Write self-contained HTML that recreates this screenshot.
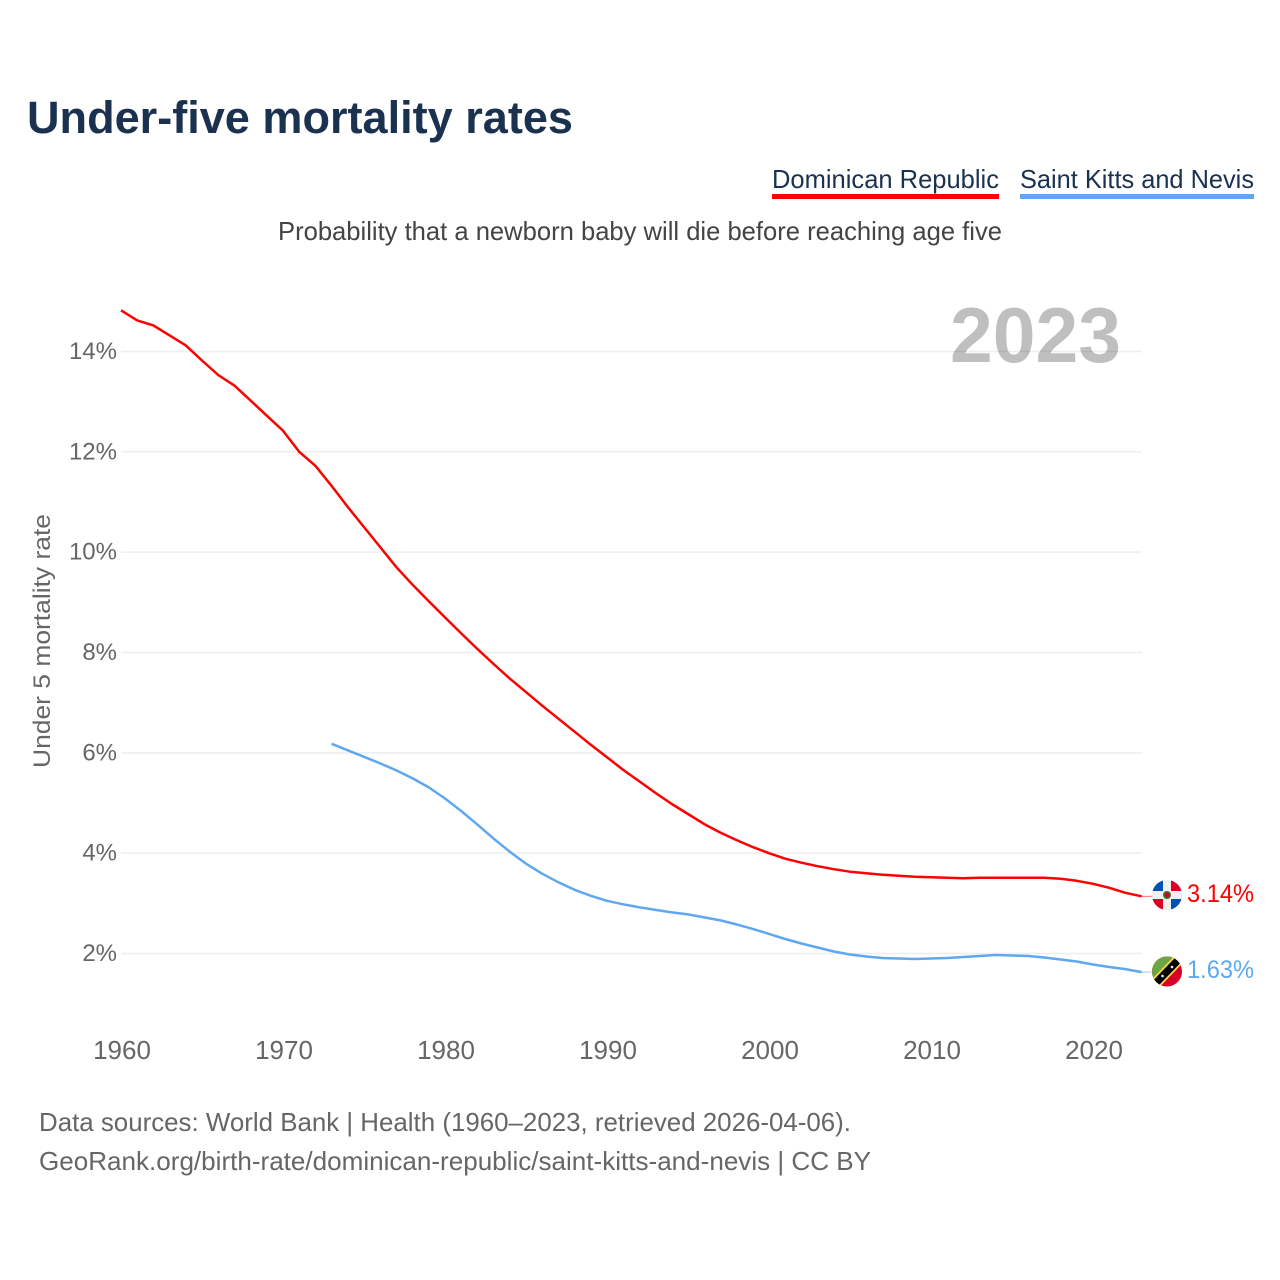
<!DOCTYPE html>
<html lang="en">
<head>
<meta charset="utf-8">
<title>Under-five mortality rates</title>
<style>
html,body{margin:0;padding:0;background:#fff;width:1280px;height:1280px;overflow:hidden}
svg{display:block}
text{font-family:"Liberation Sans",sans-serif}
</style>
</head>
<body>
<svg id="chart" xmlns="http://www.w3.org/2000/svg" width="1280" height="1280" viewBox="0 0 1280 1280">
  <defs>
    <clipPath id="clip-dr"><circle cx="1167" cy="895" r="15"/></clipPath>
    <clipPath id="clip-kn"><circle cx="1167" cy="971.5" r="15"/></clipPath>
  </defs>
  <text x="27" y="133" font-size="45" font-weight="700" fill="#1a3150" textLength="546" lengthAdjust="spacingAndGlyphs">Under-five mortality rates</text>

  <g>
    <text x="772" y="188" font-size="26" fill="#1a3150" textLength="227" lengthAdjust="spacingAndGlyphs">Dominican Republic</text>
    <rect x="772" y="194" width="227" height="5" fill="#ff0000"/>
  </g>
  <g>
    <text x="1020" y="188" font-size="26" fill="#1a3150" textLength="234" lengthAdjust="spacingAndGlyphs">Saint Kitts and Nevis</text>
    <rect x="1020" y="194" width="234" height="5" fill="#5fa8f0"/>
  </g>

  <text x="278" y="240" font-size="26" fill="#444444" textLength="724" lengthAdjust="spacingAndGlyphs">Probability that a newborn baby will die before reaching age five</text>

  <g id="grid"></g>
  <g id="yticks"></g>
  <g id="xticks"></g>

  <text x="950" y="362" font-size="78" font-weight="700" fill="#000000" fill-opacity="0.25" textLength="171" lengthAdjust="spacingAndGlyphs">2023</text>

  <text transform="translate(50,768) rotate(-90)" font-size="24" fill="#666666" textLength="254" lengthAdjust="spacingAndGlyphs">Under 5 mortality rate</text>

  <g id="series"></g>

  <g clip-path="url(#clip-dr)">
    <rect x="1152" y="880" width="30" height="31" fill="#f0f0f0"/>
    <rect x="1152" y="880" width="11" height="11" fill="#0052b4"/>
    <rect x="1171" y="880" width="11" height="11" fill="#d80027"/>
    <rect x="1152" y="899" width="11" height="12" fill="#d80027"/>
    <rect x="1171" y="899" width="11" height="12" fill="#0052b4"/>
    <circle cx="1167" cy="895" r="4" fill="#496e2d"/>
    <circle cx="1167" cy="895" r="2.4" fill="#d80027"/>
  </g>
  <g clip-path="url(#clip-kn)">
    <rect x="1152" y="956" width="30" height="31" fill="#d80027"/>
    <polygon points="1152,956 1182,956 1152,987" fill="#6da544"/>
    <line x1="1152" y1="987" x2="1182" y2="956" stroke="#ffda44" stroke-width="11"/>
    <line x1="1152" y1="987" x2="1182" y2="956" stroke="#000000" stroke-width="7.5"/>
    <circle cx="1162.5" cy="976" r="1.3" fill="#f0f0f0"/>
    <circle cx="1172" cy="967" r="1.3" fill="#f0f0f0"/>
  </g>

  <text x="1187" y="902" font-size="25" fill="#ff0000" textLength="67" lengthAdjust="spacingAndGlyphs">3.14%</text>
  <text x="1187" y="978" font-size="25" fill="#5fa8f0" textLength="67" lengthAdjust="spacingAndGlyphs">1.63%</text>

  <text x="39" y="1131" font-size="26" fill="#666666" textLength="812" lengthAdjust="spacingAndGlyphs">Data sources: World Bank | Health (1960–2023, retrieved 2026-04-06).</text>
  <text x="39" y="1170" font-size="26" fill="#666666" textLength="832" lengthAdjust="spacingAndGlyphs">GeoRank.org/birth-rate/dominican-republic/saint-kitts-and-nevis | CC BY</text>
</svg>
<script>
const xTickYears = [1960, 1970, 1980, 1990, 2000, 2010, 2020];
const yTickValues = [2, 4, 6, 8, 10, 12, 14];
const drStartYear = 1960;
const drValues = [14.82,14.62,14.52,14.32,14.12,13.82,13.53,13.32,13.02,12.72,12.42,12.0,11.72,11.32,10.9,10.5,10.1,9.7,9.35,9.02,8.7,8.38,8.07,7.77,7.48,7.21,6.94,6.68,6.42,6.16,5.91,5.66,5.43,5.2,4.98,4.78,4.58,4.41,4.26,4.12,4.0,3.89,3.81,3.74,3.68,3.63,3.6,3.57,3.55,3.53,3.52,3.51,3.5,3.51,3.51,3.51,3.51,3.51,3.49,3.45,3.39,3.31,3.21,3.14];
const knStartYear = 1973;
const knValues = [6.18,6.05,5.92,5.79,5.65,5.49,5.31,5.09,4.84,4.57,4.29,4.03,3.79,3.59,3.42,3.27,3.15,3.05,2.98,2.92,2.87,2.82,2.78,2.72,2.66,2.58,2.49,2.39,2.29,2.2,2.12,2.04,1.98,1.94,1.91,1.9,1.89,1.9,1.91,1.93,1.95,1.97,1.96,1.95,1.92,1.88,1.84,1.78,1.73,1.69,1.63];

const NS = 'http://www.w3.org/2000/svg';
function xScale(year) { return 121 + (year - 1960) * 16.2; }
function yScale(value) { return 1053.84 - value * 50.17; }
function points(startYear, values) {
  return values.map((v, i) => xScale(startYear + i).toFixed(1) + ',' + yScale(v).toFixed(1)).join(' ');
}
const grid = document.getElementById('grid');
const yticks = document.getElementById('yticks');
const xticks = document.getElementById('xticks');
const series = document.getElementById('series');

yTickValues.forEach(v => {
  const line = document.createElementNS(NS, 'line');
  
  
  line.setAttribute('x1', xScale(1960));
  line.setAttribute('x2', xScale(2023));
  line.setAttribute('y1', yScale(v));
  line.setAttribute('y2', yScale(v));
  line.setAttribute('stroke', '#eeeeee');
  line.setAttribute('stroke-width', '1.5');
  grid.appendChild(line);
  const t = document.createElementNS(NS, 'text');
  
  
  t.setAttribute('x', 117);
  t.setAttribute('y', yScale(v) + 7.5);
  t.setAttribute('text-anchor', 'end');
  t.setAttribute('font-size', '24');
  t.setAttribute('fill', '#666666');
  t.textContent = v + '%';
  yticks.appendChild(t);
});

xTickYears.forEach(y => {
  const t = document.createElementNS(NS, 'text');
  
  
  t.setAttribute('x', xScale(y) + 1);
  t.setAttribute('y', 1059);
  t.setAttribute('text-anchor', 'middle');
  t.setAttribute('font-size', '26');
  t.setAttribute('fill', '#666666');
  t.textContent = y;
  xticks.appendChild(t);
});

function drawLine(name, startYear, values, color) {
  const line = document.createElementNS(NS, 'polyline');
  
  
  line.setAttribute('points', points(startYear, values));
  line.setAttribute('fill', 'none');
  line.setAttribute('stroke', color);
  line.setAttribute('stroke-width', '2.5');
  line.setAttribute('stroke-linejoin', 'round');
  series.appendChild(line);
  const last = values[values.length - 1];
  const lead = document.createElementNS(NS, 'line');
  
  
  lead.setAttribute('x1', xScale(2023));
  lead.setAttribute('x2', xScale(2023) + 10);
  lead.setAttribute('y1', yScale(last));
  lead.setAttribute('y2', yScale(last));
  lead.setAttribute('stroke', color);
  lead.setAttribute('stroke-opacity', '0.6');
  lead.setAttribute('stroke-width', '1');
  series.appendChild(lead);
}
drawLine('line-saint-kitts-and-nevis', knStartYear, knValues, '#5fa8f0');
drawLine('line-dominican-republic', drStartYear, drValues, '#ff0000');
</script>
</body>
</html>
